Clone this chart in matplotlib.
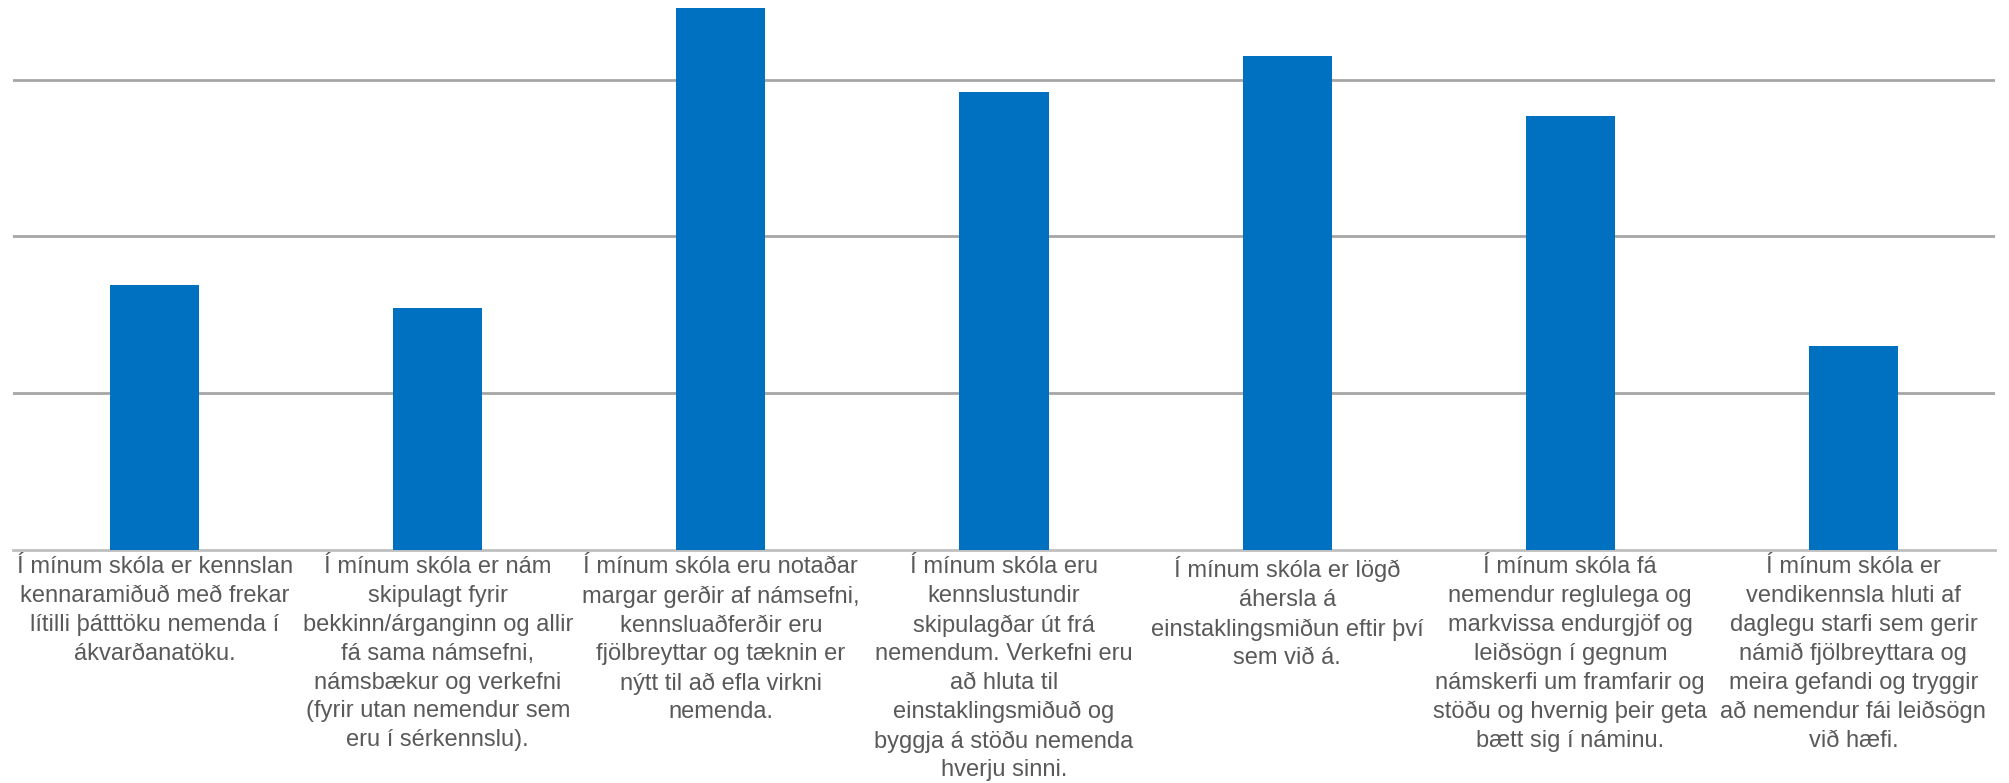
import numpy as np
import matplotlib.pyplot as plt

plt.rcParams['font.family'] = ['Liberation Sans', 'DejaVu Sans']

# Category labels (line breaks as in the original chart)
labels = [
    "Í mínum skóla er kennslan\nkennaramiðuð með frekar\nlítilli þátttöku nemenda í\nákvarðanatöku.",
    "Í mínum skóla er nám\nskipulagt fyrir\nbekkinn/árganginn og allir\nfá sama námsefni,\nnámsbækur og verkefni\n(fyrir utan nemendur sem\neru í sérkennslu).",
    "Í mínum skóla eru notaðar\nmargar gerðir af námsefni,\nkennsluaðferðir eru\nfjölbreyttar og tæknin er\nnýtt til að efla virkni\nnemenda.",
    "Í mínum skóla eru\nkennslustundir\nskipulagðar út frá\nnemendum. Verkefni eru\nað hluta til\neinstaklingsmiðuð og\nbyggja á stöðu nemenda\nhverju sinni.",
    "Í mínum skóla er lögð\náhersla á\neinstaklingsmiðun eftir því\nsem við á.",
    "Í mínum skóla fá\nnemendur reglulega og\nmarkvissa endurgjöf og\nleiðsögn í gegnum\nnámskerfi um framfarir og\nstöðu og hvernig þeir geta\nbætt sig í náminu.",
    "Í mínum skóla er\nvendikennsla hluti af\ndaglegu starfi sem gerir\nnámið fjölbreyttara og\nmeira gefandi og tryggir\nað nemendur fái leiðsögn\nvið hæfi.",
]
values = [1.69, 1.54, 3.46, 2.92, 3.15, 2.77, 1.30]

fig = plt.figure(figsize=(20.09, 7.83), dpi=100)
ax = fig.add_axes([13 / 2009, 1 - 549.5 / 783, (1995 - 13) / 2009, 549.5 / 783])

x = np.arange(len(values))
ax.bar(x, values, width=0.315, color='#0070C0', zorder=3)

ax.set_xlim(-0.5, len(values) - 0.5)
ax.set_ylim(0, 3.509)
ax.set_yticks([1, 2, 3])
ax.yaxis.grid(True, color='#A6A6A6', linewidth=2, zorder=0)
ax.tick_params(axis='y', left=False, labelleft=False)

ax.set_xticks(x)
ax.set_xticklabels(labels, fontsize=17, color='#595959', linespacing=1.4)
ax.tick_params(axis='x', length=0, pad=5)

for s in ['top', 'right', 'left']:
    ax.spines[s].set_visible(False)
ax.spines['bottom'].set_color('#BFBFBF')
ax.spines['bottom'].set_linewidth(2)

fig.savefig('out.png', dpi=100)
